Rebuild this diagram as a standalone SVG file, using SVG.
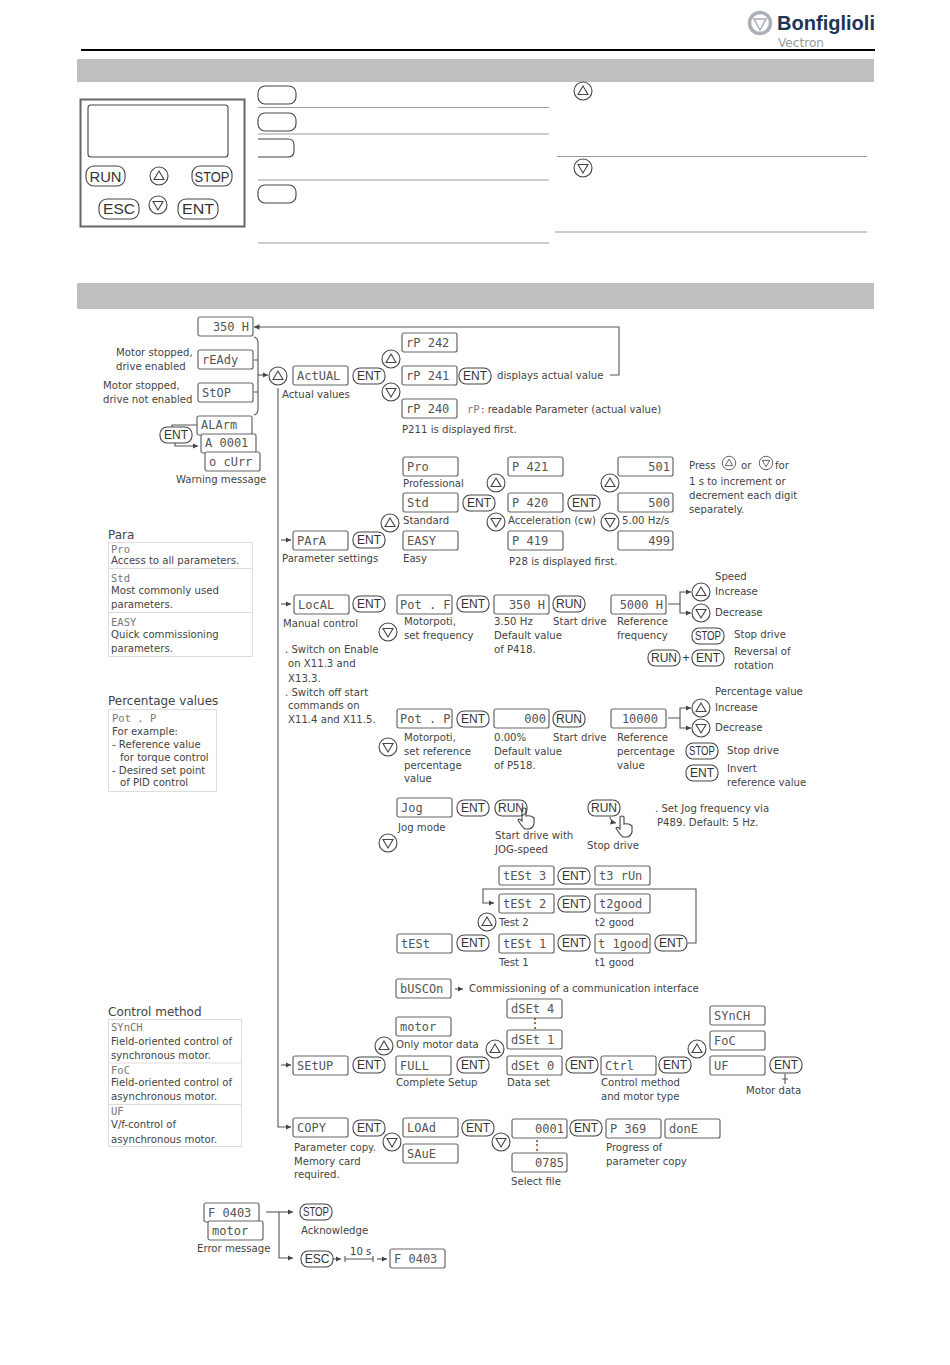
<svg xmlns="http://www.w3.org/2000/svg" width="950" height="1365" viewBox="0 0 950 1365">
<style>
text{font-family:"DejaVu Sans",sans-serif;font-size:10.15px;fill:#444}
.h{font-size:12px}
.l{font-family:"DejaVu Sans Mono",monospace;font-size:12px;fill:#555}
.r{text-anchor:end}
.s{font-family:"DejaVu Sans Mono",monospace;font-size:10.5px;fill:#777}
.bt{font-family:"Liberation Sans",sans-serif;font-size:12px;fill:#333;text-anchor:middle}
.bb{font-family:"Liberation Sans",sans-serif;font-size:15px;fill:#333;text-anchor:middle}
.box{fill:#fff;stroke:#666;stroke-width:1.2}
.btn{fill:#fff;stroke:#444;stroke-width:1.1}
.rule{stroke:#999;stroke-width:1;fill:none}
.tbl{fill:#fff;stroke:#ddd;stroke-width:1}
.c{fill:none;stroke:#555;stroke-width:1.1}
.k{fill:none;stroke:#444;stroke-width:1.1}
</style>
<defs>
<marker id="a" markerWidth="6" markerHeight="6" refX="5" refY="3" orient="auto"><path d="M0 .5L5 3L0 5.500Z" fill="#444"/></marker>
<rect id="lcd" class="box" width="55" height="19" rx="2"/>
<rect id="btn" class="btn" x="-16" y="-8" width="32" height="16" rx="7"/>
<g id="up"><circle class="btn" r="9"/><path class="k" d="M-5 3.500H5L0-5Z"/></g>
<g id="dn"><circle class="btn" r="9"/><path class="k" d="M-5-3.500H5L0 5Z"/></g>
<g id="hand"><path class="k" d="M-4 0V-10Q-2-12 0-10V-3Q5-4 8-1V5Q7 9 3 10H-1Q-4 8-8 1Q-7-1-4 2Z"/></g>
</defs>
<rect width="950" height="1365" fill="#fff"/>
<g id="logo"><circle cx="760" cy="23" r="10.500" fill="none" stroke="#aab0b5" stroke-width="3.500"/><path d="M754 19H766L760 30Z" fill="none" stroke="#aab0b5" stroke-width="1.500"/>
<text x="777" y="30" textLength="98" lengthAdjust="spacingAndGlyphs" style="font-family:'Liberation Sans',sans-serif;font-weight:bold;font-size:20px;fill:#1d3557">Bonfiglioli</text>
<text x="778" y="47" textLength="46" lengthAdjust="spacingAndGlyphs" style="font-size:12px;fill:#999">Vectron</text></g>
<rect x="81" y="49" width="794" height="2" fill="#000"/>
<rect x="77" y="59" width="797" height="23" fill="#bfbfbf"/>
<rect x="77" y="283" width="797" height="26" fill="#bfbfbf"/>

<g id="panel">
<rect x="80.500" y="99.500" width="164" height="127" fill="#fff" stroke="#666" stroke-width="2"/>
<rect x="88" y="105" width="140" height="52" rx="3" class="btn"/>
<rect x="86" y="166" width="39" height="20" rx="8" class="btn"/><text x="105.500" y="181.500" class="bb" textLength="32" lengthAdjust="spacingAndGlyphs">RUN</text>
<use href="#up" x="159" y="176"/>
<rect x="192" y="166" width="40" height="20" rx="8" class="btn"/><text x="212" y="181.500" class="bb" textLength="35" lengthAdjust="spacingAndGlyphs">STOP</text>
<rect x="99" y="199" width="40" height="20" rx="8" class="btn"/><text x="119" y="214" class="bb" textLength="32" lengthAdjust="spacingAndGlyphs">ESC</text>
<use href="#dn" x="158" y="205"/>
<rect x="178" y="199" width="40" height="20" rx="8" class="btn"/><text x="198" y="214" class="bb" textLength="32" lengthAdjust="spacingAndGlyphs">ENT</text>
</g>
<g id="keys">
<rect x="258" y="86" width="38" height="18" rx="7" class="btn"/>
<rect x="258" y="113" width="38" height="18" rx="7" class="btn"/>
<path class="btn" d="M258 139H288Q294 139 294 145V151Q294 157 288 157H258"/>
<rect x="258" y="185" width="38" height="18" rx="7" class="btn"/>
<path class="rule" d="M258 107.500H549M258 134H549M258 180H549M258 243H549M557 156.500H867M555 232H867"/>
<use href="#up" x="583" y="91"/><use href="#dn" x="583" y="168"/>
</g>

<g id="connectors">
<path class="c" d="M278 388V1127H291" marker-end="url(#a)"/>
<path class="c" d="M281 540H291" marker-end="url(#a)"/>
<path class="c" d="M281 604H291" marker-end="url(#a)"/>
<path class="c" d="M281 1065H291" marker-end="url(#a)"/>
<path class="c" d="M610 375H619V327H254" marker-end="url(#a)"/>
<path class="c" d="M254 337Q258 338 258 343V409Q258 414 254 415M254 360H258M254 392H258"/>
<path class="c" d="M258 375H268" marker-end="url(#a)"/>
<path class="c" d="M172 427V425H197"/>
<path class="c" d="M175 443V446H198" marker-end="url(#a)"/>
<path class="c" d="M668 604H680V592H691" marker-end="url(#a)"/>
<path class="c" d="M680 604V613H691" marker-end="url(#a)"/>
<path class="c" d="M668 718H680V708H691" marker-end="url(#a)"/>
<path class="c" d="M680 718V728H691" marker-end="url(#a)"/>
<path class="c" d="M610 817Q611 822 616 823" marker-end="url(#a)"/>
<path class="c" d="M688 943H696V889H483V903H494" marker-end="url(#a)"/>
<path class="c" d="M455 989H463" marker-end="url(#a)"/>
<path class="c" d="M785 1074V1084M782 1079H788"/>
<path class="c" d="M266 1212H293" marker-end="url(#a)"/>
<path class="c" d="M279 1212V1258H293" marker-end="url(#a)"/>
<path class="c" d="M333 1259H341" marker-end="url(#a)"/>
<path class="c" d="M345 1259H373M345 1256V1262M373 1256V1262"/>
<path class="c" d="M377 1259H387" marker-end="url(#a)"/>
</g>

<g id="d350h" transform="translate(198,317)"><use href="#lcd"/><text x="51" y="14" class="l r">350 H</text></g>
<g id="dready" transform="translate(198,350)"><use href="#lcd"/><text x="4" y="14" class="l">rEAdy</text></g>
<g id="dstop" transform="translate(198,383)"><use href="#lcd"/><text x="4" y="14" class="l">StOP</text></g>
<g id="dalarm" transform="translate(197,416)"><use href="#lcd"/><text x="4" y="13" class="l">ALArm</text></g>
<g id="da0001" transform="translate(201,434)"><use href="#lcd"/><text x="4" y="13" class="l">A 0001</text></g>
<g id="docurr" transform="translate(205,452)"><use href="#lcd"/><text x="4" y="14" class="l">o cUrr</text></g>
<g id="bwarn" transform="translate(176,435)"><use href="#btn"/><text y="4" class="bt">ENT</text></g>
<text x="116" y="356">Motor stopped,</text><text x="116" y="370">drive enabled</text>
<text x="103" y="389">Motor stopped,</text><text x="103" y="403">drive not enabled</text>
<text x="176" y="483">Warning message</text>

<g id="uhome" transform="translate(278,376)"><use href="#up"/></g>
<g id="dactual" transform="translate(293,366)"><use href="#lcd"/><text x="4" y="14" class="l">ActUAL</text></g>
<g id="bactual" transform="translate(369,376)"><use href="#btn"/><text y="4" class="bt">ENT</text></g>
<text x="282" y="398">Actual values</text>
<use href="#up" x="391" y="359"/><use href="#dn" x="391" y="392"/>
<g id="drp242" transform="translate(402,333)"><use href="#lcd"/><text x="4" y="14" class="l">rP 242</text></g>
<g id="drp241" transform="translate(402,366)"><use href="#lcd"/><text x="4" y="14" class="l">rP 241</text></g>
<g id="drp240" transform="translate(402,399)"><use href="#lcd"/><text x="4" y="14" class="l">rP 240</text></g>
<g id="brp" transform="translate(475,376)"><use href="#btn"/><text y="4" class="bt">ENT</text></g>
<text x="497" y="379">displays actual value</text>
<text x="467" y="413" class="s">rP</text><text x="481" y="413">: readable Parameter (actual value)</text>
<text x="402" y="433">P211 is displayed first.</text>

<g id="para">
<rect x="108.500" y="542.500" width="144" height="114" class="tbl"/><path class="tbl" d="M108 568.500H252M108 612.500H252"/>
<text x="108" y="539" class="h">Para</text>
<text x="111" y="553" class="s">Pro</text><text x="111" y="564">Access to all parameters.</text>
<text x="111" y="582" class="s">Std</text><text x="111" y="594">Most commonly used</text><text x="111" y="608">parameters.</text>
<text x="111" y="626" class="s">EASY</text><text x="111" y="638">Quick commissioning</text><text x="111" y="652">parameters.</text>
</g>
<g id="percent">
<rect x="108.500" y="709.500" width="108" height="82" class="tbl"/>
<text x="108" y="705" class="h">Percentage values</text>
<text x="112" y="722" class="s">Pot . P</text><text x="112" y="735">For example:</text><text x="112" y="748">- Reference value</text><text x="120" y="761">for torque control</text><text x="112" y="774">- Desired set point</text><text x="120" y="786">of PID control</text>
</g>
<g id="control">
<rect x="108.500" y="1019.500" width="133" height="127" class="tbl"/><path class="tbl" d="M108 1063H241M108 1104.500H241"/>
<text x="108" y="1016" class="h">Control method</text>
<text x="111" y="1031" class="s">SYnCH</text><text x="111" y="1045">Field-oriented control of</text><text x="111" y="1059">synchronous motor.</text>
<text x="111" y="1074" class="s">FoC</text><text x="111" y="1086">Field-oriented control of</text><text x="111" y="1100">asynchronous motor.</text>
<text x="111" y="1115" class="s">UF</text><text x="111" y="1128">V/f-control of</text><text x="111" y="1143">asynchronous motor.</text>
</g>

<g id="dpara" transform="translate(293,531)"><use href="#lcd"/><text x="4" y="14" class="l">PArA</text></g>
<g id="bpara" transform="translate(369,540)"><use href="#btn"/><text y="4" class="bt">ENT</text></g>
<text x="282" y="562">Parameter settings</text>
<use href="#up" x="390" y="523"/>
<g id="dpro" transform="translate(403,457)"><use href="#lcd"/><text x="4" y="14" class="l">Pro</text></g>
<g id="dstd" transform="translate(403,493)"><use href="#lcd"/><text x="4" y="14" class="l">Std</text></g>
<g id="deasy" transform="translate(403,531)"><use href="#lcd"/><text x="4" y="14" class="l">EASY</text></g>
<text x="403" y="487">Professional</text><text x="403" y="524">Standard</text><text x="403" y="562">Easy</text>
<g id="bstd" transform="translate(479,503)"><use href="#btn"/><text y="4" class="bt">ENT</text></g>
<use href="#up" x="496" y="483"/><use href="#dn" x="496" y="522"/>
<g id="dp421" transform="translate(508,457)"><use href="#lcd"/><text x="4" y="14" class="l">P 421</text></g>
<g id="dp420" transform="translate(508,493)"><use href="#lcd"/><text x="4" y="14" class="l">P 420</text></g>
<g id="dp419" transform="translate(508,531)"><use href="#lcd"/><text x="4" y="14" class="l">P 419</text></g>
<text x="508" y="524">Acceleration (cw)</text><text x="509" y="565">P28 is displayed first.</text>
<g id="bp420" transform="translate(584,503)"><use href="#btn"/><text y="4" class="bt">ENT</text></g>
<use href="#up" x="610" y="483"/><use href="#dn" x="610" y="522"/>
<g id="d501" transform="translate(618,457)"><use href="#lcd"/><text x="52" y="14" class="l r">501</text></g>
<g id="d500" transform="translate(618,493)"><use href="#lcd"/><text x="52" y="14" class="l r">500</text></g>
<g id="d499" transform="translate(618,531)"><use href="#lcd"/><text x="52" y="14" class="l r">499</text></g>
<text x="622" y="524">5.00 Hz/s</text>
<text x="689" y="469">Press</text><g transform="translate(729,463) scale(.75)"><use href="#up"/></g><text x="741" y="469">or</text><g transform="translate(766,463) scale(.75)"><use href="#dn"/></g><text x="775" y="469">for</text>
<text x="689" y="485">1 s to increment or</text><text x="689" y="499">decrement each digit</text><text x="689" y="513">separately.</text>

<g id="dlocal" transform="translate(294,595)"><use href="#lcd"/><text x="4" y="14" class="l">LocAL</text></g>
<g id="blocal" transform="translate(369,604)"><use href="#btn"/><text y="4" class="bt">ENT</text></g>
<text x="283" y="627">Manual control</text>
<text x="285" y="653">. Switch on Enable</text><text x="288" y="667">on X11.3 and</text><text x="288" y="682">X13.3.</text><text x="285" y="696">. Switch off start</text><text x="288" y="709">commands on</text><text x="288" y="723">X11.4 and X11.5.</text>
<g id="dpotf" transform="translate(397,595)"><use href="#lcd"/><text x="3" y="14" class="l">Pot . F</text></g>
<g id="bpotf" transform="translate(473,604)"><use href="#btn"/><text y="4" class="bt">ENT</text></g>
<use href="#dn" x="388" y="632"/>
<text x="404" y="625">Motorpoti,</text><text x="404" y="639">set frequency</text>
<g id="d350b" transform="translate(494,595)"><use href="#lcd"/><text x="51" y="14" class="l r">350 H</text></g>
<g id="rpotf" transform="translate(569,604)"><use href="#btn"/><text y="4" class="bt">RUN</text></g>
<text x="494" y="625">3.50 Hz</text><text x="494" y="639">Default value</text><text x="494" y="653">of P418.</text><text x="553" y="625">Start drive</text>
<g id="d5000" transform="translate(611,595)"><use href="#lcd"/><text x="52" y="14" class="l r">5000 H</text></g>
<text x="617" y="625">Reference</text><text x="617" y="639">frequency</text>
<use href="#up" x="701" y="592"/><use href="#dn" x="701" y="613"/>
<text x="715" y="580">Speed</text><text x="715" y="595">Increase</text><text x="715" y="616">Decrease</text>
<g id="sspeed" transform="translate(708,636)"><use href="#btn"/><text y="4" class="bt" textLength="26" lengthAdjust="spacingAndGlyphs">STOP</text></g><text x="734" y="638">Stop drive</text>
<g id="rrev" transform="translate(664,658)"><use href="#btn"/><text y="4" class="bt">RUN</text></g><text x="686" y="662" class="bt">+</text>
<g id="erev" transform="translate(708,658)"><use href="#btn"/><text y="4" class="bt">ENT</text></g>
<text x="734" y="655">Reversal of</text><text x="734" y="669">rotation</text>

<g id="dpotp" transform="translate(397,709)"><use href="#lcd"/><text x="3" y="14" class="l">Pot . P</text></g>
<g id="bpotp" transform="translate(473,719)"><use href="#btn"/><text y="4" class="bt">ENT</text></g>
<use href="#dn" x="388" y="747"/>
<text x="404" y="741">Motorpoti,</text><text x="404" y="755">set reference</text><text x="404" y="769">percentage</text><text x="404" y="782">value</text>
<g id="d000" transform="translate(494,709)"><use href="#lcd"/><text x="52" y="14" class="l r">000</text></g>
<g id="rpotp" transform="translate(569,719)"><use href="#btn"/><text y="4" class="bt">RUN</text></g>
<text x="494" y="741">0.00%</text><text x="494" y="755">Default value</text><text x="494" y="769">of P518.</text><text x="553" y="741">Start drive</text>
<g id="d10000" transform="translate(611,709)"><use href="#lcd"/><text x="47" y="14" class="l r">10000</text></g>
<text x="617" y="741">Reference</text><text x="617" y="755">percentage</text><text x="617" y="769">value</text>
<use href="#up" x="701" y="708"/><use href="#dn" x="701" y="728"/>
<text x="715" y="695">Percentage value</text><text x="715" y="711">Increase</text><text x="715" y="731">Decrease</text>
<g id="spct" transform="translate(702,751)"><use href="#btn"/><text y="4" class="bt" textLength="26" lengthAdjust="spacingAndGlyphs">STOP</text></g><text x="727" y="754">Stop drive</text>
<g id="ept" transform="translate(702,773)"><use href="#btn"/><text y="4" class="bt">ENT</text></g><text x="727" y="772">Invert</text><text x="727" y="786">reference value</text>

<g id="djog" transform="translate(397,798)"><use href="#lcd"/><text x="4" y="14" class="l">Jog</text></g>
<g id="bjog" transform="translate(473,808)"><use href="#btn"/><text y="4" class="bt">ENT</text></g>
<g id="rjog" transform="translate(511,808)"><use href="#btn"/><text y="4" class="bt">RUN</text></g><use href="#hand" x="526" y="819"/>
<text x="398" y="831">Jog mode</text><use href="#dn" x="388" y="843"/>
<text x="495" y="839">Start drive with</text><text x="495" y="853">JOG-speed</text>
<g id="rjog2" transform="translate(604,808)"><use href="#btn"/><text y="4" class="bt">RUN</text></g><use href="#hand" x="624" y="827"/>
<text x="587" y="849">Stop drive</text>
<text x="655" y="812">. Set Jog frequency via</text><text x="657" y="826">P489. Default: 5 Hz.</text>

<g id="dt3" transform="translate(499,866)"><use href="#lcd"/><text x="4" y="14" class="l">tESt 3</text></g>
<g id="bt3" transform="translate(574,876)"><use href="#btn"/><text y="4" class="bt">ENT</text></g>
<g id="dt3r" transform="translate(595,866)"><use href="#lcd"/><text x="4" y="14" class="l">t3 rUn</text></g>
<g id="dt2" transform="translate(499,894)"><use href="#lcd"/><text x="4" y="14" class="l">tESt 2</text></g>
<g id="bt2" transform="translate(574,904)"><use href="#btn"/><text y="4" class="bt">ENT</text></g>
<g id="dt2g" transform="translate(595,894)"><use href="#lcd"/><text x="4" y="14" class="l">t2good</text></g>
<use href="#up" x="487" y="922"/><text x="499" y="926">Test 2</text><text x="595" y="926">t2 good</text>
<g id="dtest" transform="translate(397,934)"><use href="#lcd"/><text x="4" y="14" class="l">tESt</text></g>
<g id="btest" transform="translate(473,943)"><use href="#btn"/><text y="4" class="bt">ENT</text></g>
<g id="dt1" transform="translate(499,934)"><use href="#lcd"/><text x="4" y="14" class="l">tESt 1</text></g>
<g id="bt1" transform="translate(574,943)"><use href="#btn"/><text y="4" class="bt">ENT</text></g>
<g id="dt1g" transform="translate(595,934)"><use href="#lcd"/><text x="3" y="14" class="l">t 1good</text></g>
<g id="bt1g" transform="translate(671,943)"><use href="#btn"/><text y="4" class="bt">ENT</text></g>
<text x="499" y="966">Test 1</text><text x="595" y="966">t1 good</text>
<g id="dbus" transform="translate(396,979)"><use href="#lcd"/><text x="4" y="14" class="l">bUSCOn</text></g>
<text x="469" y="992">Commissioning of a communication interface</text>

<g id="dmotor" transform="translate(396,1017)"><use href="#lcd"/><text x="4" y="14" class="l">motor</text></g>
<use href="#up" x="384" y="1046"/><text x="396" y="1048">Only motor data</text>
<g id="dfull" transform="translate(396,1056)"><use href="#lcd"/><text x="4" y="14" class="l">FULL</text></g>
<g id="bfull" transform="translate(473,1065)"><use href="#btn"/><text y="4" class="bt">ENT</text></g>
<text x="396" y="1086">Complete Setup</text>
<use href="#up" x="495" y="1049"/>
<g id="ds4" transform="translate(507,999)"><use href="#lcd"/><text x="4" y="14" class="l">dSEt 4</text></g>
<text x="535" y="1027" class="bt">⋮</text>
<g id="ds1" transform="translate(507,1030)"><use href="#lcd"/><text x="4" y="14" class="l">dSEt 1</text></g>
<g id="ds0" transform="translate(507,1056)"><use href="#lcd"/><text x="4" y="14" class="l">dSEt 0</text></g>
<text x="507" y="1086">Data set</text>
<g id="bds" transform="translate(582,1065)"><use href="#btn"/><text y="4" class="bt">ENT</text></g>
<g id="dctrl" transform="translate(601,1056)"><use href="#lcd"/><text x="4" y="14" class="l">Ctrl</text></g>
<g id="bctrl" transform="translate(675,1065)"><use href="#btn"/><text y="4" class="bt">ENT</text></g>
<text x="601" y="1086">Control method</text><text x="601" y="1100">and motor type</text>
<use href="#up" x="697" y="1049"/>
<g id="dsynch" transform="translate(710,1006)"><use href="#lcd"/><text x="4" y="14" class="l">SYnCH</text></g>
<g id="dfoc" transform="translate(710,1031)"><use href="#lcd"/><text x="4" y="14" class="l">FoC</text></g>
<g id="duf" transform="translate(710,1056)"><use href="#lcd"/><text x="4" y="14" class="l">UF</text></g>
<g id="buf" transform="translate(786,1065)"><use href="#btn"/><text y="4" class="bt">ENT</text></g>
<text x="746" y="1094">Motor data</text>
<g id="dsetup" transform="translate(293,1056)"><use href="#lcd"/><text x="4" y="14" class="l">SEtUP</text></g>
<g id="bsetup" transform="translate(369,1065)"><use href="#btn"/><text y="4" class="bt">ENT</text></g>

<g id="dcopy" transform="translate(293,1118)"><use href="#lcd"/><text x="4" y="14" class="l">COPY</text></g>
<g id="bcopy" transform="translate(369,1128)"><use href="#btn"/><text y="4" class="bt">ENT</text></g>
<text x="294" y="1151">Parameter copy.</text><text x="294" y="1165">Memory card</text><text x="294" y="1178">required.</text>
<use href="#dn" x="392" y="1142"/>
<g id="dload" transform="translate(403,1118)"><use href="#lcd"/><text x="4" y="14" class="l">LOAd</text></g>
<g id="bload" transform="translate(478,1128)"><use href="#btn"/><text y="4" class="bt">ENT</text></g>
<g id="dsave" transform="translate(403,1144)"><use href="#lcd"/><text x="4" y="14" class="l">SAuE</text></g>
<use href="#dn" x="501" y="1142"/>
<g id="d0001" transform="translate(512,1119)"><use href="#lcd"/><text x="52" y="14" class="l r">0001</text></g>
<text x="537" y="1149" class="bt">⋮</text>
<g id="d0785" transform="translate(512,1153)"><use href="#lcd"/><text x="52" y="14" class="l r">0785</text></g>
<text x="511" y="1185">Select file</text>
<g id="b0001" transform="translate(586,1128)"><use href="#btn"/><text y="4" class="bt">ENT</text></g>
<g id="dp369" transform="translate(606,1119)"><use href="#lcd"/><text x="4" y="14" class="l">P 369</text></g>
<g id="ddone" transform="translate(665,1119)"><use href="#lcd"/><text x="4" y="14" class="l">donE</text></g>
<text x="606" y="1151">Progress of</text><text x="606" y="1165">parameter copy</text>

<g id="df0403" transform="translate(204,1203)"><use href="#lcd"/><text x="4" y="14" class="l">F 0403</text></g>
<g id="dmotor2" transform="translate(208,1221)"><use href="#lcd"/><text x="4" y="14" class="l">motor</text></g>
<text x="197" y="1252">Error message</text>
<g id="serr" transform="translate(316,1212)"><use href="#btn"/><text y="4" class="bt" textLength="26" lengthAdjust="spacingAndGlyphs">STOP</text></g>
<text x="301" y="1234">Acknowledge</text>
<g id="eerr" transform="translate(317,1259)"><use href="#btn"/><text y="4" class="bt">ESC</text></g>
<text x="350" y="1255">10 s</text>
<g id="df0403b" transform="translate(390,1249)"><use href="#lcd"/><text x="4" y="14" class="l">F 0403</text></g>
</svg>
